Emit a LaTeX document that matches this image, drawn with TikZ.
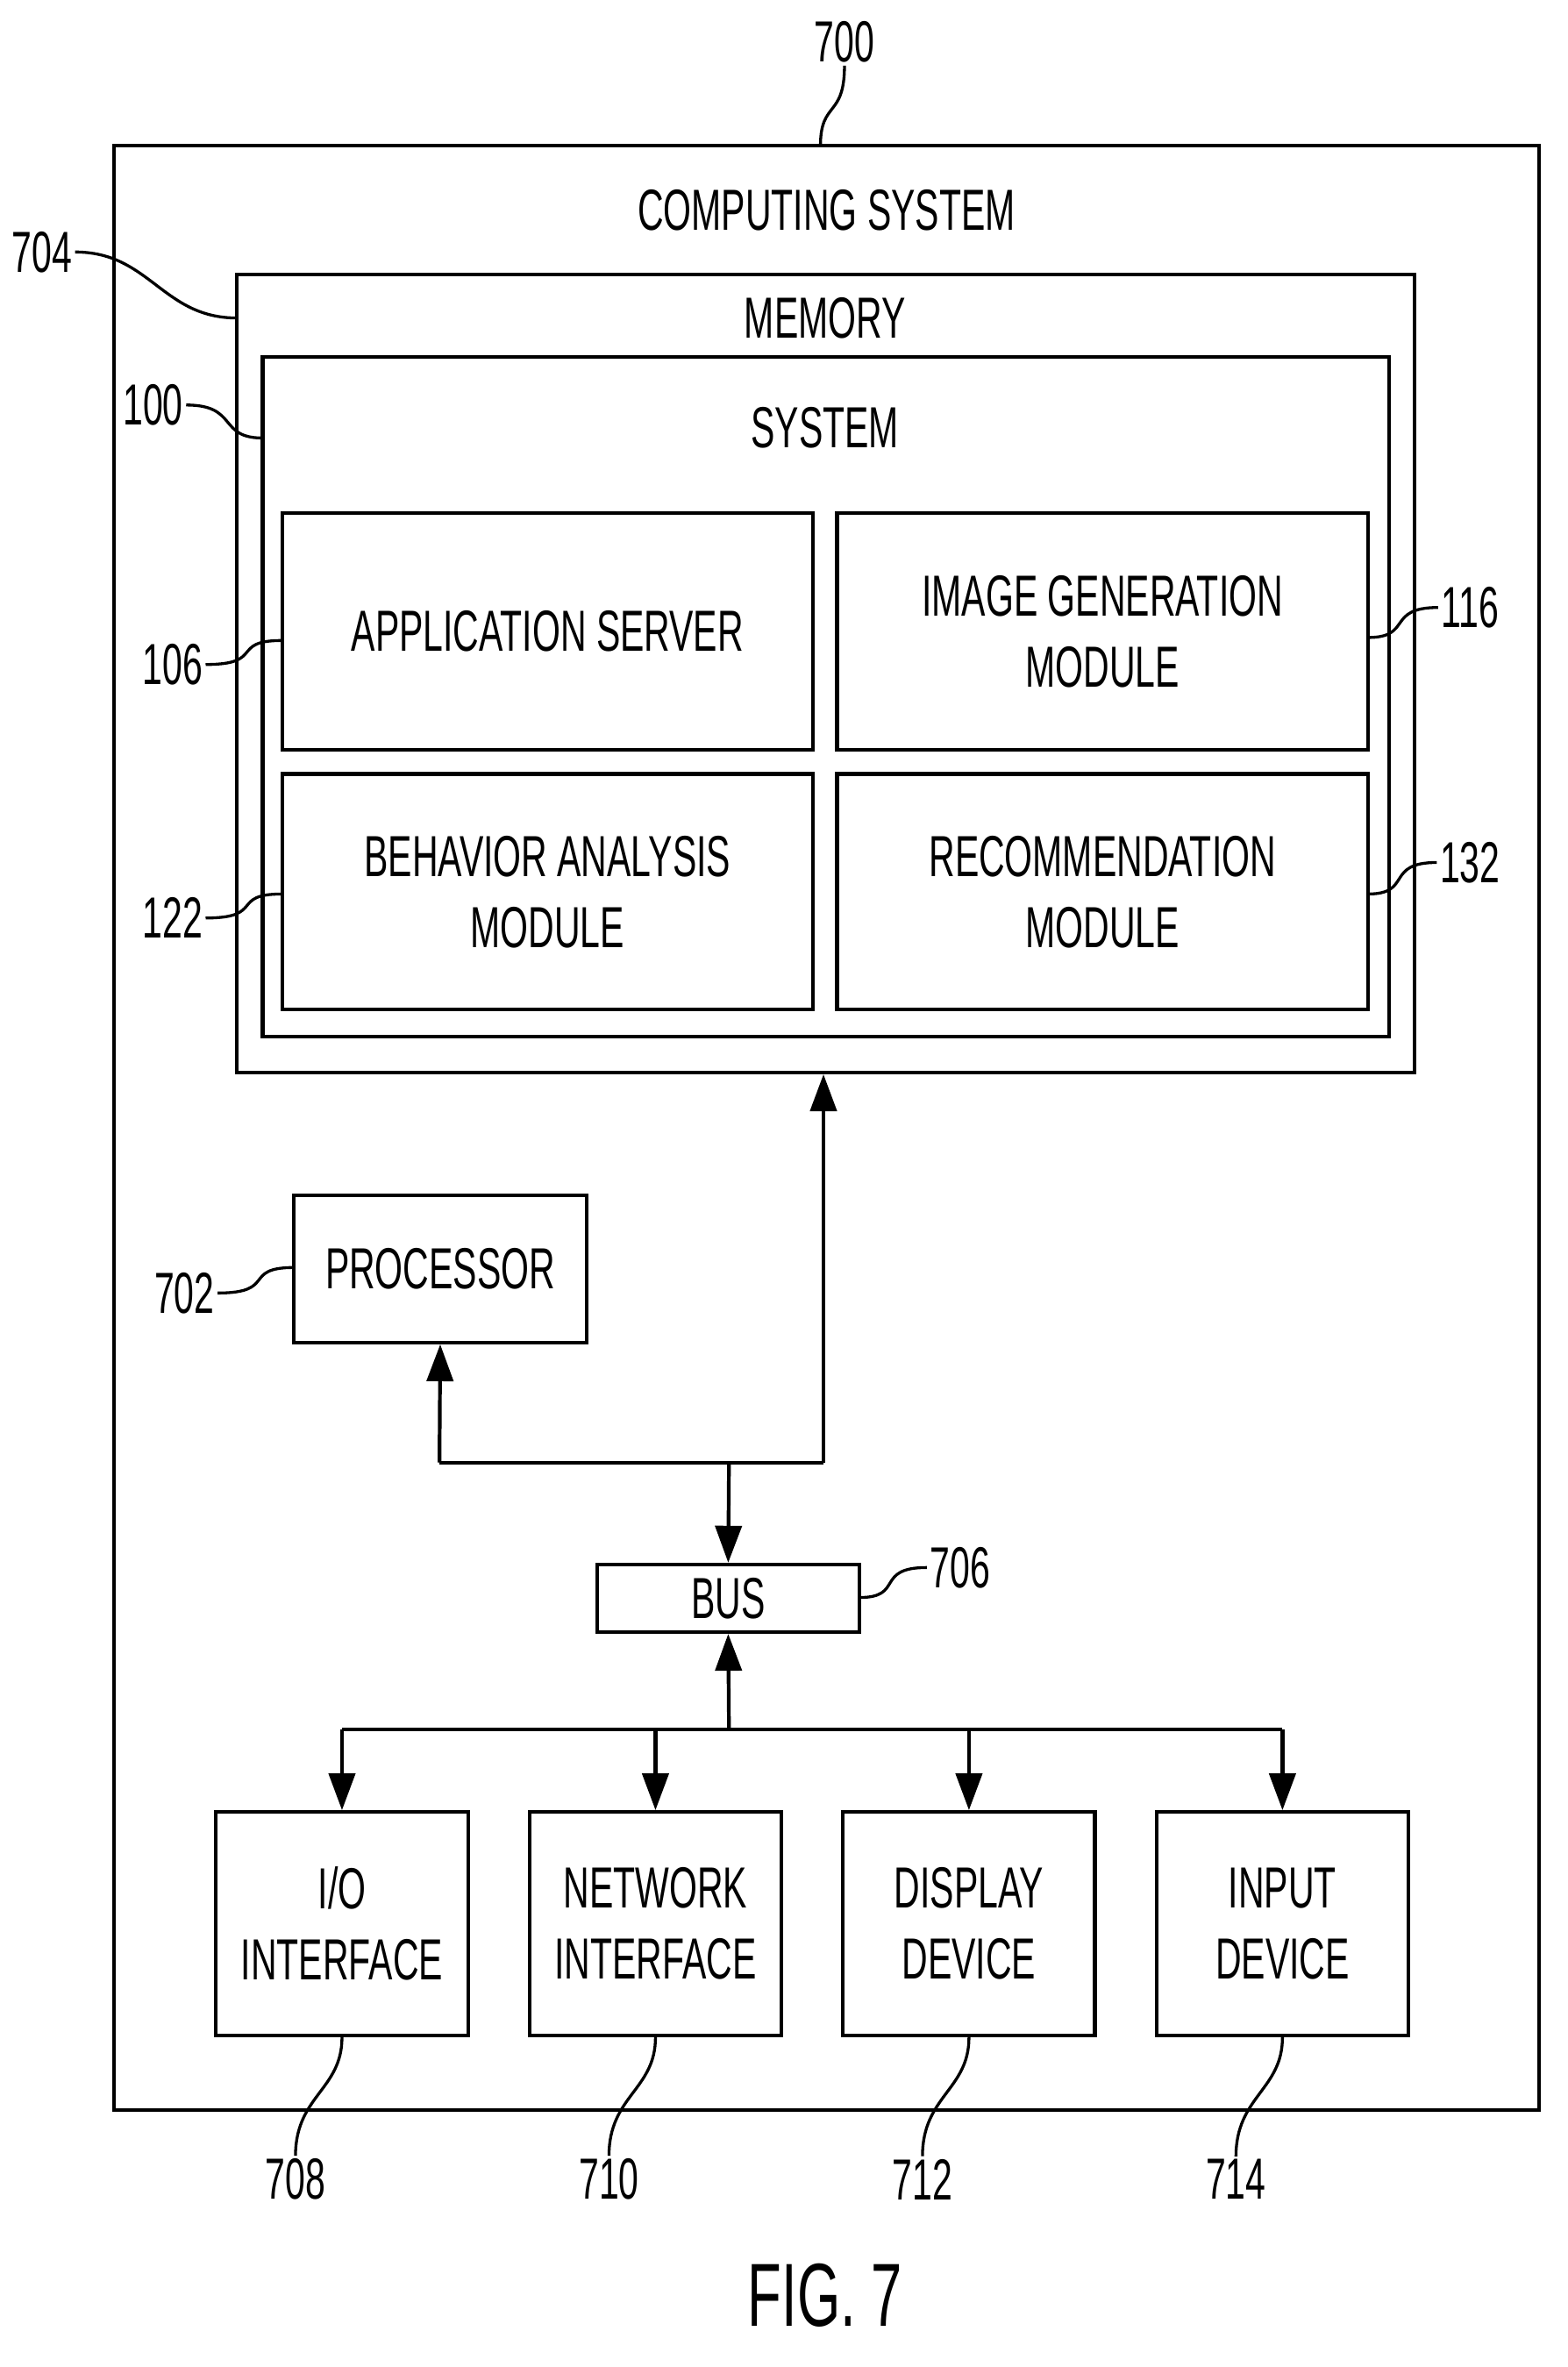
\documentclass[tikz,border=0pt]{standalone}
\usepackage{fontspec}
\setmainfont{Liberation Sans}[FakeStretch=0.62]
\usetikzlibrary{arrows.meta,positioning}
\tikzset{
    block/.style={
        draw,
        line width=1.4pt,
        rectangle,
        inner sep=0pt,
        align=center,
        font=\fontsize{22}{27}\selectfont
    },
    ref/.style={
        font=\fontsize{22}{27}\selectfont,
        inner sep=1pt
    },
    lead/.style={
        line width=1.1pt
    },
    link/.style={
        line width=1.4pt,
        -{Triangle[length=14pt,width=10pt]}
    },
}
\begin{document}
\begin{tikzpicture}[x=0.02cm, y=-0.02cm]
    \useasboundingbox (0,0) rectangle (1045,1578);
    % containers
    \node[block, minimum width=19.0cm, minimum height=26.2cm] (cs) at (551,752) {};
    \node[ref] (csT) at (551,140) {COMPUTING SYSTEM};
    \node[block, minimum width=15.7cm, minimum height=10.64cm] (mem) at (550.5,449) {};
    \node[ref] (memT) at (550,212) {MEMORY};
    \node[block, minimum width=15.02cm, minimum height=9.06cm] (sys) at (550.5,464.5) {};
    \node[ref] (sysT) at (550,285) {SYSTEM};

    % modules
    \node[block, minimum width=7.08cm, minimum height=3.16cm] (app) at (365,421) {APPLICATION SERVER};
    \node[block, minimum width=7.08cm, minimum height=3.16cm] (img) at (735,421) {IMAGE GENERATION\\MODULE};
    \node[block, minimum width=7.08cm, minimum height=3.14cm] (beh) at (365,594.5) {BEHAVIOR ANALYSIS\\MODULE};
    \node[block, minimum width=7.08cm, minimum height=3.14cm] (rec) at (735,594.5) {RECOMMENDATION\\MODULE};

    % processor and bus
    \node[block, minimum width=3.9cm, minimum height=1.96cm] (proc) at (293.5,846) {PROCESSOR};
    \node[block, minimum width=3.5cm, minimum height=0.9cm] (bus) at (485.5,1065.5) {BUS};
    \coordinate (jn) at (486,975);
    \coordinate (jp) at (293,975);
    \coordinate (jm) at (549,975);
    \coordinate (jb) at (486,1153);

    % devices
    \node[block, minimum width=3.36cm, minimum height=2.98cm] (io) at (228,1282.5) {I/O\\INTERFACE};
    \node[block, minimum width=3.36cm, minimum height=2.98cm] (net) at (437,1282.5) {NETWORK\\INTERFACE};
    \node[block, minimum width=3.36cm, minimum height=2.98cm] (disp) at (646,1282.5) {DISPLAY\\DEVICE};
    \node[block, minimum width=3.36cm, minimum height=2.98cm] (inp) at (855,1282.5) {INPUT\\DEVICE};

    % connectors
    \draw[line width=1.4pt] (jp) -- (jm);
    \draw[link] (jp) -- (proc.south);
    \draw[link] (jm) -- (mem.south -| jm);
    \draw[link] (jn) -- (bus.north);
    \draw[link] (jb) -- (bus.south);
    \draw[line width=1.4pt] (io.north |- jb) -- (inp.north |- jb);
    \foreach \d in {io,net,disp,inp}
        \draw[link] (\d.north |- jb) -- (\d.north);

    % reference numerals
    \node[ref] (r700) at (563,28) {700};
    \node[ref] (r704) at (28,168) {704};
    \node[ref] (r100) at (102,270) {100};
    \node[ref] (r106) at (115,443) {106};
    \node[ref] (r116) at (980,405) {116};
    \node[ref] (r122) at (115,612) {122};
    \node[ref] (r132) at (980,575) {132};
    \node[ref] (r702) at (123,862) {702};
    \node[ref] (r706) at (640,1045) {706};
    \node[ref] (r708) at (197,1453) {708};
    \node[ref] (r710) at (406,1453) {710};
    \node[ref] (r712) at (615,1453) {712};
    \node[ref] (r714) at (824,1453) {714};
    \node[font=\fontsize{34}{40}\selectfont] (fig) at (550,1530) {FIG. 7};

    \draw[lead] (r700.south) .. controls +(0,35) and +(0,-30) .. (547,97);
    \draw[lead] (r704.east) .. controls +(50,0) and +(-50,0) .. (158,212);
    \draw[lead] (r100.east) .. controls +(35,0) and +(-30,0) .. (175,292);
    \draw[lead] (r106.west -| r106.east) .. controls +(40,0) and +(-35,0) .. (188,427);
    \draw[lead] (r122.east) .. controls +(40,0) and +(-35,0) .. (188,596);
    \draw[lead] (r116.west) .. controls +(-35,0) and +(30,0) .. (912,425);
    \draw[lead] (r132.west) .. controls +(-35,0) and +(30,0) .. (912,596);
    \draw[lead] (r702.east) .. controls +(40,0) and +(-35,0) .. (196,845);
    \draw[lead] (r706.west) .. controls +(-35,0) and +(30,0) .. (573,1065);
    \draw[lead] (r708.north) .. controls +(0,-40) and +(0,35) .. (io.south);
    \draw[lead] (r710.north) .. controls +(0,-40) and +(0,35) .. (net.south);
    \draw[lead] (r712.north) .. controls +(0,-40) and +(0,35) .. (disp.south);
    \draw[lead] (r714.north) .. controls +(0,-40) and +(0,35) .. (inp.south);
\end{tikzpicture}
\end{document}
